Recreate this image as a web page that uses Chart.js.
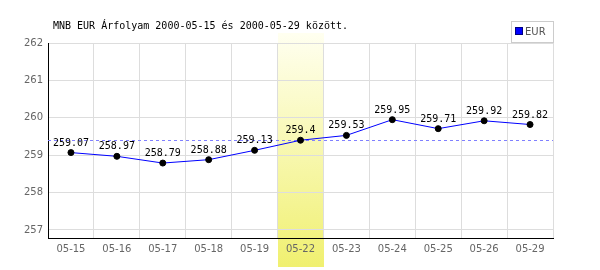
<!DOCTYPE html>
<html>
<head>
<meta charset="utf-8">
<script src="https://cdn.jsdelivr.net/npm/chart.js@4/dist/chart.umd.min.js"></script>
<style>
html,body{margin:0;padding:0;background:#fff;}
#wrap{width:600px;height:270px;position:relative;}
</style>
</head>
<body>
<div id="wrap"><canvas id="c" width="600" height="270"></canvas></div>
<script>
const titleText = "MNB EUR Árfolyam 2000-05-15 és 2000-05-29 között.";
const categories = ["05-15","05-16","05-17","05-18","05-19","05-22","05-23","05-24","05-25","05-26","05-29"];
const eurValues = [259.07,258.97,258.79,258.88,259.13,259.4,259.53,259.95,259.71,259.92,259.82];
const yTicks = [257,258,259,260,261,262];
const highlightCategory = "05-22";
const referenceValue = 259.4;
const seriesName = "EUR";

const decorPlugin = {
  id: 'decor',
  beforeDraw(chart) {
    const ctx = chart.ctx;
    const xs = chart.scales.x;
    const idx = categories.indexOf(highlightCategory);
    const cx = xs.getPixelForValue(idx);
    const half = (xs.getPixelForValue(1) - xs.getPixelForValue(0)) / 2;
    const g = ctx.createLinearGradient(0, 33, 0, 267);
    g.addColorStop(0, '#fffff0');
    g.addColorStop(1, '#f0f070');
    ctx.save();
    ctx.fillStyle = g;
    ctx.fillRect(Math.round(cx - half), 33, Math.round(2 * half), 234);
    ctx.restore();
  },
  beforeDatasetsDraw(chart) {
    const ctx = chart.ctx;
    const ca = chart.chartArea;
    const y = Math.round(chart.scales.y.getPixelForValue(referenceValue)) + 0.5;
    ctx.save();
    ctx.strokeStyle = '#8080ff';
    ctx.lineWidth = 1;
    ctx.setLineDash([3, 3]);
    ctx.beginPath();
    ctx.moveTo(ca.left, y);
    ctx.lineTo(ca.right, y);
    ctx.stroke();
    ctx.restore();
  },
  afterDatasetsDraw(chart) {
    const ctx = chart.ctx;
    const meta = chart.getDatasetMeta(0);
    ctx.save();
    ctx.font = '10px "DejaVu Sans Mono", monospace';
    ctx.fillStyle = '#000';
    ctx.textAlign = 'center';
    ctx.textBaseline = 'alphabetic';
    meta.data.forEach((p, i) => {
      ctx.fillText(String(eurValues[i]), p.x, p.y - 7);
    });
    ctx.restore();
  },
  afterDraw(chart) {
    const ctx = chart.ctx;
    ctx.save();
    ctx.font = '10px "DejaVu Sans Mono", monospace';
    ctx.fillStyle = '#000';
    ctx.textAlign = 'left';
    ctx.textBaseline = 'alphabetic';
    ctx.fillText(titleText, 53, 29);
    ctx.fillStyle = '#fff';
    ctx.fillRect(511, 21, 42, 21);
    ctx.strokeStyle = '#cccccc';
    ctx.lineWidth = 1;
    ctx.strokeRect(511.5, 21.5, 42, 21);
    ctx.fillStyle = '#0000ff';
    ctx.fillRect(516, 28, 6, 6);
    ctx.strokeStyle = '#000080';
    ctx.strokeRect(515.5, 27.5, 7, 7);
    ctx.font = '10px "DejaVu Sans", sans-serif';
    ctx.fillStyle = '#555';
    ctx.textBaseline = 'middle';
    ctx.fillText(seriesName, 525, 32);
    ctx.restore();
  }
};

new Chart(document.getElementById('c'), {
  type: 'line',
  data: {
    labels: categories,
    datasets: [
      {
        label: seriesName,
        data: eurValues,
        borderColor: '#0000ff',
        borderWidth: 1,
        pointRadius: 3,
        pointBackgroundColor: '#000',
        pointBorderColor: '#000',
        pointBorderWidth: 1,
        tension: 0,
        fill: false
      }
    ]
  },
  plugins: [decorPlugin],
  options: {
    responsive: false,
    animation: false,
    events: [],
    layout: { padding: { left: 0, right: 47, top: 43, bottom: 0 } },
    plugins: {
      legend: { display: false },
      title: { display: false },
      tooltip: { enabled: false }
    },
    scales: {
      x: {
        type: 'category',
        offset: true,
        grid: { offset: true, color: '#dddddd', drawTicks: false, lineWidth: 1 },
        border: { color: '#000', width: 1 },
        ticks: { color: '#666', font: { family: 'DejaVu Sans', size: 10 }, padding: 5, maxRotation: 0, autoSkip: false },
        afterFit(s) { s.height = 32; }
      },
      y: {
        min: 256.786,
        max: 262,
        grid: { color: '#dddddd', drawTicks: false, lineWidth: 1 },
        border: { color: '#000', width: 1 },
        ticks: { color: '#666', font: { family: 'DejaVu Sans', size: 10 }, padding: 5, stepSize: 1 },
        afterBuildTicks(s) { s.ticks = yTicks.map(v => ({ value: v })); },
        afterFit(s) { s.width = 48; }
      }
    }
  }
});
</script>
</body>
</html>
